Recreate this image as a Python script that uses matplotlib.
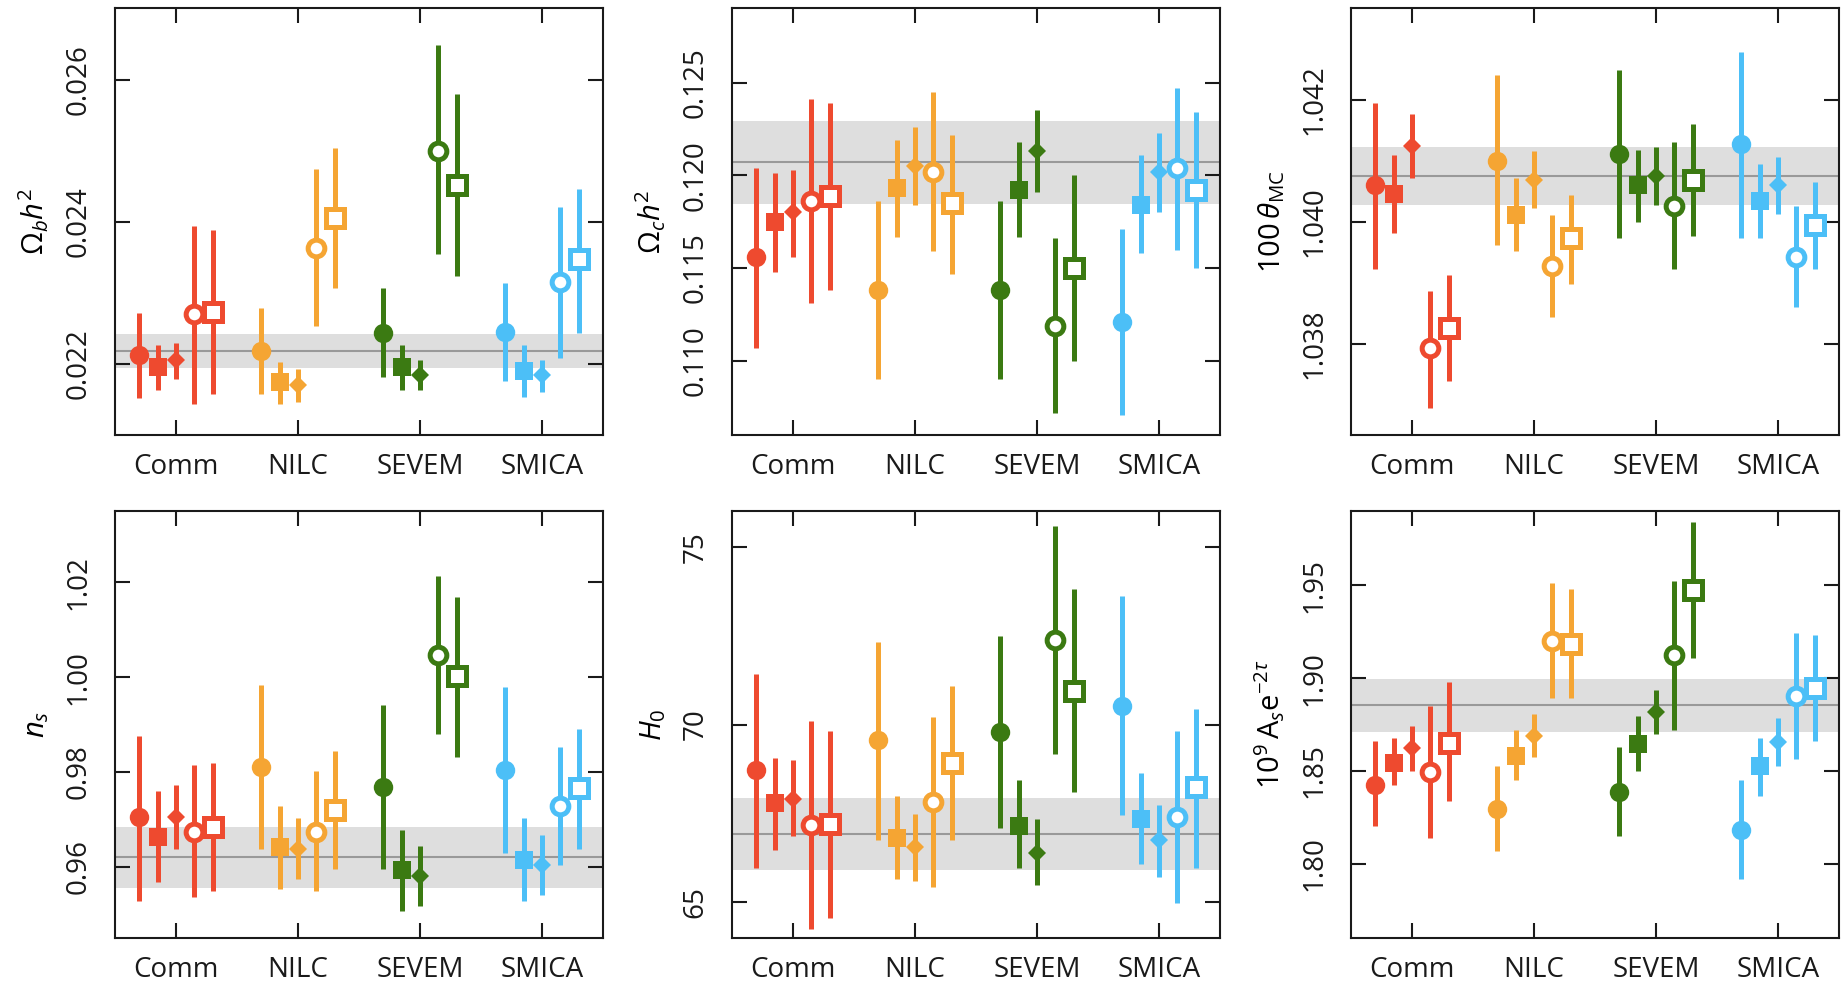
import numpy as np
import matplotlib
matplotlib.use('Agg')
import matplotlib.pyplot as plt

plt.rcParams['font.family'] = ['Open Sans', 'DejaVu Sans']
plt.rcParams['mathtext.fontset'] = 'custom'
plt.rcParams['mathtext.rm'] = 'Open Sans'
plt.rcParams['mathtext.it'] = 'Open Sans:italic'
plt.rcParams['mathtext.bf'] = 'Open Sans:bold'

methods = ['Comm', 'NILC', 'SEVEM', 'SMICA']

# each row: one method, five analyses (mid, lower, upper)
ombh2_mid = [[0.02213, 0.02196, 0.02205, 0.02270, 0.02273],
             [0.02218, 0.02174, 0.02171, 0.02363, 0.02405],
             [0.02244, 0.02195, 0.02185, 0.02500, 0.02452],
             [0.02245, 0.02190, 0.02184, 0.02315, 0.02347]]
ombh2_lo = [[0.02152, 0.02164, 0.02179, 0.02143, 0.02158],
            [0.02158, 0.02143, 0.02147, 0.02253, 0.02307],
            [0.02181, 0.02164, 0.02164, 0.02354, 0.02323],
            [0.02176, 0.02153, 0.02160, 0.02209, 0.02243]]
ombh2_hi = [[0.02271, 0.02227, 0.02229, 0.02394, 0.02389],
            [0.02278, 0.02203, 0.02193, 0.02474, 0.02503],
            [0.02307, 0.02227, 0.02206, 0.02648, 0.02580],
            [0.02314, 0.02227, 0.02206, 0.02420, 0.02446]]

omch2_mid = [[0.1156, 0.1175, 0.1180, 0.1186, 0.1189],
             [0.1138, 0.1193, 0.1205, 0.1202, 0.1185],
             [0.1138, 0.1192, 0.1213, 0.1119, 0.1150],
             [0.1121, 0.1184, 0.1202, 0.1204, 0.1192]]
omch2_lo = [[0.1107, 0.1148, 0.1156, 0.1131, 0.1138],
            [0.1090, 0.1167, 0.1184, 0.1159, 0.1147],
            [0.1090, 0.1167, 0.1191, 0.1072, 0.1100],
            [0.1071, 0.1158, 0.1180, 0.1160, 0.1150]]
omch2_hi = [[0.1204, 0.1201, 0.1203, 0.1241, 0.1239],
            [0.1186, 0.1219, 0.1226, 0.1245, 0.1222],
            [0.1186, 0.1218, 0.1235, 0.1166, 0.1200],
            [0.1171, 0.1211, 0.1223, 0.1247, 0.1234]]

theta_mid = [[1.04060, 1.04046, 1.04124, 1.03792, 1.03826],
             [1.04099, 1.04011, 1.04068, 1.03927, 1.03973],
             [1.04111, 1.04060, 1.04075, 1.04026, 1.04068],
             [1.04127, 1.04034, 1.04060, 1.03942, 1.03994]]
theta_lo = [[1.03923, 1.03982, 1.04072, 1.03694, 1.03739],
            [1.03961, 1.03952, 1.04022, 1.03844, 1.03898],
            [1.03973, 1.04000, 1.04028, 1.03923, 1.03976],
            [1.03973, 1.03973, 1.04012, 1.03860, 1.03923]]
theta_hi = [[1.04195, 1.04110, 1.04176, 1.03887, 1.03912],
            [1.04240, 1.04071, 1.04116, 1.04011, 1.04044],
            [1.04249, 1.04118, 1.04122, 1.04130, 1.04161],
            [1.04278, 1.04095, 1.04106, 1.04026, 1.04065]]

ns_mid = [[0.9704, 0.9662, 0.9705, 0.9674, 0.9683],
          [0.9810, 0.9642, 0.9637, 0.9674, 0.9719],
          [0.9769, 0.9592, 0.9580, 1.0046, 1.0002],
          [0.9805, 0.9615, 0.9604, 0.9728, 0.9765]]
ns_lo = [[0.9528, 0.9567, 0.9637, 0.9537, 0.9548],
         [0.9637, 0.9552, 0.9575, 0.9548, 0.9595],
         [0.9595, 0.9507, 0.9517, 0.9879, 0.9831],
         [0.9629, 0.9527, 0.9540, 0.9603, 0.9637]]
ns_hi = [[0.9875, 0.9760, 0.9772, 0.9814, 0.9818],
         [0.9984, 0.9728, 0.9702, 0.9802, 0.9845],
         [0.9942, 0.9678, 0.9644, 1.0213, 1.0170],
         [0.9979, 0.9702, 0.9667, 0.9852, 0.9891]]

h0_mid = [[68.71, 67.79, 67.91, 67.18, 67.20],
          [69.55, 66.80, 66.55, 67.82, 68.92],
          [69.79, 67.15, 66.38, 72.37, 70.93],
          [70.51, 67.34, 66.74, 67.41, 68.24]]
h0_lo = [[65.96, 66.47, 66.85, 64.25, 64.55],
         [66.74, 65.65, 65.60, 65.42, 66.74],
         [67.10, 65.96, 65.49, 69.18, 68.09],
         [67.46, 66.07, 65.70, 64.99, 65.96]]
h0_hi = [[71.43, 69.06, 68.99, 70.09, 69.83],
         [72.31, 68.00, 67.49, 70.20, 71.07],
         [72.48, 68.43, 67.34, 75.58, 73.82],
         [73.61, 68.63, 67.74, 69.83, 70.45]]

as_mid = [[1.8426, 1.8542, 1.8623, 1.8492, 1.8650],
          [1.8296, 1.8582, 1.8690, 1.9198, 1.9186],
          [1.8386, 1.8645, 1.8817, 1.9123, 1.9477],
          [1.8180, 1.8524, 1.8656, 1.8905, 1.8947]]
as_lo = [[1.8205, 1.8422, 1.8501, 1.8138, 1.8336],
         [1.8066, 1.8453, 1.8573, 1.8893, 1.8893],
         [1.8147, 1.8501, 1.8701, 1.8722, 1.9108],
         [1.7919, 1.8366, 1.8524, 1.8564, 1.8663]]
as_hi = [[1.8659, 1.8677, 1.8740, 1.8848, 1.8977],
         [1.8528, 1.8719, 1.8807, 1.9513, 1.9480],
         [1.8627, 1.8798, 1.8934, 1.9522, 1.9840],
         [1.8449, 1.8677, 1.8785, 1.9243, 1.9234]]

# reference value and half width of the grey band
ref_mid = [0.02218, 0.1207, 1.04075, 0.9620, 66.92, 1.8853]
ref_half = [0.00024, 0.00225, 0.00048, 0.0064, 1.0, 0.0143]

labels = [r'$\Omega_b h^2$', r'$\Omega_c h^2$', r'$100\,\theta_{\rm MC}$',
          r'$n_s$', r'$H_0$', r'$10^9\,{\rm A}_s {\rm e}^{-2\tau}$']
ylims = [(0.0210, 0.0270), (0.106, 0.129), (1.0365, 1.0435),
         (0.945, 1.035), (64, 76), (1.76, 1.99)]
yticks = [[0.022, 0.024, 0.026], [0.110, 0.115, 0.120, 0.125],
          [1.038, 1.040, 1.042], [0.96, 0.98, 1.00, 1.02],
          [65, 70, 75], [1.80, 1.85, 1.90, 1.95]]
yfmt = ['%.3f', '%.3f', '%.3f', '%.2f', '%d', '%.2f']

colours = ['#ee4a2f', '#f5a533', '#3b7a12', '#4cbff7']
offsets = [-0.3, -0.15, 0.0, 0.15, 0.3]
mk = ['o', 's', 'D', 'o', 's']
mk_size = [14, 12.5, 9.5, 12, 12.5]
mk_open = [False, False, False, True, True]

panels = [(ombh2_mid, ombh2_lo, ombh2_hi), (omch2_mid, omch2_lo, omch2_hi),
          (theta_mid, theta_lo, theta_hi), (ns_mid, ns_lo, ns_hi),
          (h0_mid, h0_lo, h0_hi), (as_mid, as_lo, as_hi)]

fig = plt.figure(figsize=(18.45, 9.88), dpi=100)
lefts = [0.0623, 0.3967, 0.7322]
bottoms = [0.5597, 0.0508]
w, h = 0.2645, 0.4318

for p, (mid, lo, hi) in enumerate(panels):
    ax = fig.add_axes([lefts[p % 3], bottoms[p // 3], w, h])
    ax.axhspan(ref_mid[p] - ref_half[p], ref_mid[p] + ref_half[p],
               color='#dedede', lw=0, zorder=0)
    ax.axhline(ref_mid[p], color='#999999', lw=1.5, zorder=1)
    for i in range(len(methods)):
        for j in range(5):
            m = mid[i][j]
            x = i + 1 + offsets[j]
            ax.errorbar([x], [m], yerr=[[m - lo[i][j]], [hi[i][j] - m]],
                        fmt=mk[j], color=colours[i], ms=mk_size[j],
                        mfc='white' if mk_open[j] else colours[i],
                        mec=colours[i], mew=3.6 if mk_open[j] else 0,
                        elinewidth=3.6, capsize=0, zorder=3)
    ax.set_xlim(0.5, 4.5)
    ax.set_ylim(*ylims[p])
    ax.set_xticks(range(1, 5))
    ax.set_xticklabels(methods)
    ax.set_yticks(yticks[p])
    ax.set_yticklabels([yfmt[p] % v for v in yticks[p]])
    ax.tick_params(direction='in', length=11, width=1.5, top=True, right=True,
                   labelsize=20, colors='#1a1a1a')
    ax.tick_params(axis='x', pad=13)
    ax.tick_params(axis='y', pad=16, labelrotation=90)
    plt.setp(ax.get_yticklabels(), va='center')
    for s in ax.spines.values():
        s.set_linewidth(1.5)
        s.set_color('#1a1a1a')
    ax.set_ylabel(labels[p], fontsize=21, labelpad=10)

fig.savefig('out.png', dpi=100)
